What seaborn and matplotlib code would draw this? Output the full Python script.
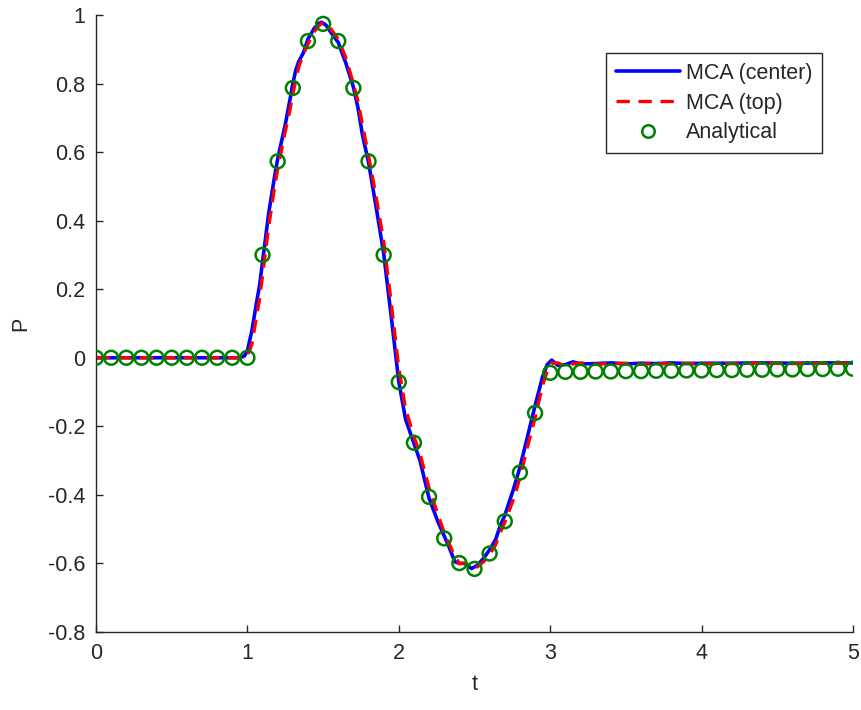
import numpy as np
import pandas as pd
import matplotlib
matplotlib.use("Agg")
import matplotlib.pyplot as plt
import seaborn as sns
from matplotlib.lines import Line2D

# ---- data ----
t_mca = [0.00, 0.50, 0.95, 0.98, 1.00, 1.03, 1.06, 1.08, 1.10, 1.14, 1.18, 1.20, 1.25, 1.28,
         1.30, 1.32, 1.34, 1.37, 1.40, 1.44, 1.47, 1.49, 1.52, 1.55, 1.60, 1.65, 1.70,
         1.73, 1.76, 1.80, 1.85, 1.90, 1.95, 2.00, 2.045, 2.10, 2.14, 2.20, 2.26, 2.30,
         2.33, 2.37, 2.40, 2.44, 2.48, 2.52, 2.56, 2.60, 2.64, 2.67, 2.70, 2.76, 2.80,
         2.85, 2.90, 2.95, 2.98, 3.01, 3.05, 3.10, 3.15, 3.20, 3.30, 3.40, 3.50, 3.60,
         3.70, 3.80, 3.90, 4.00, 4.20, 4.40, 4.60, 4.80, 5.00]
p_center = [0.0, 0.0, 0.0, 0.005, 0.02, 0.08, 0.16, 0.21, 0.28, 0.42, 0.53, 0.58, 0.68, 0.75,
            0.80, 0.84, 0.865, 0.89, 0.93, 0.96, 0.975, 0.979, 0.97, 0.95, 0.92, 0.86, 0.79,
            0.73, 0.65, 0.57, 0.44, 0.305, 0.12, -0.07, -0.18, -0.25, -0.30, -0.41, -0.48, -0.52,
            -0.55, -0.595, -0.60, -0.60, -0.615, -0.605, -0.585, -0.56, -0.53, -0.49, -0.46, -0.38, -0.32,
            -0.23, -0.14, -0.055, -0.02, -0.007, -0.022, -0.020, -0.012, -0.018, -0.017, -0.015, -0.018, -0.016,
            -0.017, -0.015, -0.017, -0.016, -0.016, -0.015, -0.016, -0.015, -0.015]
p_top = [0.0, 0.0, 0.0, 0.0, 0.005, 0.04, 0.12, 0.17, 0.24, 0.38, 0.50, 0.55, 0.66, 0.72,
         0.77, 0.81, 0.85, 0.885, 0.915, 0.95, 0.968, 0.975, 0.975, 0.96, 0.93, 0.875, 0.80,
         0.75, 0.68, 0.59, 0.47, 0.34, 0.16, -0.03, -0.15, -0.23, -0.28, -0.38, -0.46, -0.51,
         -0.54, -0.58, -0.60, -0.60, -0.61, -0.61, -0.595, -0.575, -0.545, -0.51, -0.48, -0.41, -0.35,
         -0.26, -0.175, -0.08, -0.04, -0.015, -0.015, -0.025, -0.018, -0.015, -0.019, -0.017, -0.016, -0.019,
         -0.017, -0.018, -0.016, -0.018, -0.017, -0.016, -0.017, -0.016, -0.016]

t_an = [round(0.1 * i, 1) for i in range(51)]
p_an = [0, 0, 0, 0, 0, 0, 0, 0, 0, 0,
        0.0, 0.300, 0.573, 0.787, 0.924, 0.974, 0.924, 0.787, 0.573, 0.300,
        -0.071, -0.248, -0.406, -0.527, -0.599, -0.616, -0.571, -0.477, -0.335, -0.161,
        -0.044, -0.041, -0.041, -0.040, -0.040, -0.039, -0.039, -0.038, -0.038, -0.037,
        -0.037, -0.036, -0.036, -0.035, -0.035, -0.034, -0.034, -0.033, -0.033, -0.032,
        -0.032]

x_ticks = [0, 1, 2, 3, 4, 5]
y_ticks = [-0.8, -0.6, -0.4, -0.2, 0, 0.2, 0.4, 0.6, 0.8, 1]
y_labels = ["-0.8", "-0.6", "-0.4", "-0.2", "0", "0.2", "0.4", "0.6", "0.8", "1"]

df_mca = pd.DataFrame({"t": t_mca, "center": p_center, "top": p_top})
df_an = pd.DataFrame({"t": t_an, "P": p_an})

# ---- style ----
sns.set_style("white")
plt.rcParams["font.family"] = ["Liberation Sans", "DejaVu Sans"]
axc = "#262626"
fs = 15.5

fig = plt.figure(figsize=(8.61, 7.10), dpi=100)
ax = fig.add_axes([0.1115, 0.1099, 0.8792, 0.869])

sns.lineplot(data=df_mca, x="t", y="center", ax=ax, color="#0000ff", linewidth=2.6,
             label="MCA (center)", sort=False)
sns.lineplot(data=df_mca, x="t", y="top", ax=ax, color="#ff0000", linewidth=2.4,
             label="MCA (top)", sort=False)
ax.lines[-1].set_dashes([4, 2.6])
sns.scatterplot(data=df_an, x="t", y="P", ax=ax, marker="o", s=100,
                facecolors="none", edgecolor="#008000", linewidth=1.8,
                label="Analytical", zorder=3)

ax.set_xlim(0, 5)
ax.set_ylim(-0.8, 1)
ax.set_xticks(x_ticks)
ax.set_xticklabels([str(v) for v in x_ticks])
ax.set_yticks(y_ticks)
ax.set_yticklabels(y_labels)
ax.tick_params(bottom=True, left=True, top=False, right=False,
               direction="in", length=5, width=1.0, colors=axc, labelsize=fs,
               labelcolor=axc, pad=8)
for s in ["top", "right"]:
    ax.spines[s].set_visible(False)
for s in ["left", "bottom"]:
    ax.spines[s].set_color(axc)
    ax.spines[s].set_linewidth(1.0)
ax.set_xlabel("t", fontsize=fs, color=axc, labelpad=7)
ax.set_ylabel("P", fontsize=fs, color=axc, labelpad=12)

handles = [
    Line2D([], [], color="#0000ff", linewidth=2.6),
    Line2D([], [], color="#ff0000", linewidth=2.4, dashes=[4, 2.6]),
    Line2D([], [], color="#008000", marker="o", markersize=9, markerfacecolor="none",
           markeredgewidth=1.8, linestyle="none"),
]
leg = ax.legend(handles, ["MCA (center)", "MCA (top)", "Analytical"],
                loc="upper right", bbox_to_anchor=(0.959, 0.938), fontsize=fs,
                frameon=True, fancybox=False, framealpha=1, edgecolor="#262626",
                handlelength=3.0, handletextpad=0.25, borderpad=0.45, labelspacing=0.4,
                borderaxespad=0)
leg.get_frame().set_linewidth(1.0)

fig.savefig("out.png", dpi=100)
